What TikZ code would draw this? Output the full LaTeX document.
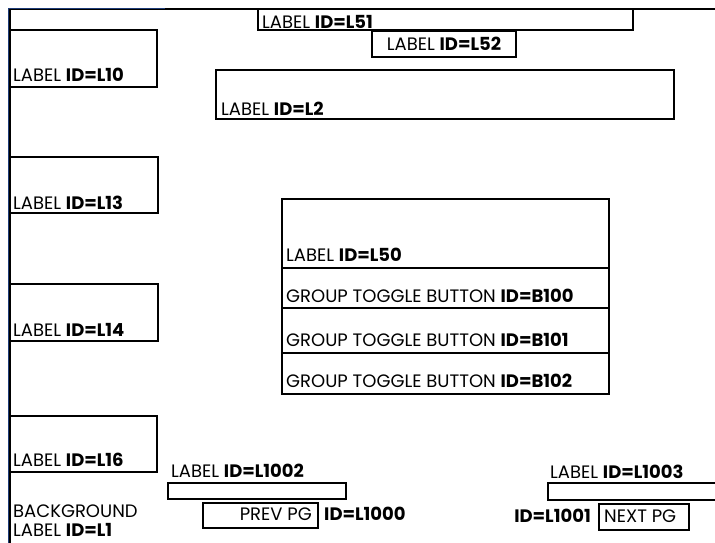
\documentclass[tikz,border=0pt]{standalone}
\usepackage{fontspec}
\setmainfont{Poppins}
\begin{document}
\begin{tikzpicture}[x=1pt,y=-1pt,
  box/.style={draw=black,line width=2.4pt},
  txt/.style={anchor=base west,inner sep=0pt,font=\fontsize{18}{20}\selectfont},
  txtr/.style={anchor=base east,inner sep=0pt,font=\fontsize{18}{20}\selectfont}]
\useasboundingbox (0,0) rectangle (715,542);
% background border
\draw[line width=2pt,black] (9,9) -- (720,9);
\draw[line width=1pt,color={rgb,255:red,30;green,60;blue,120}] (9,8) -- (165,8);
\draw[line width=2pt,black] (10,9) -- (10,550);
\draw[line width=1pt,color={rgb,255:red,30;green,60;blue,120}] (8.5,8) -- (8.5,550);
% top labels
\draw[box] (258,9) rectangle (633,30);
\node[txt] (t51) at (262,28) {LABEL \textbf{ID=L51}};
\draw[box] (372,31) rectangle (516,57);
\node[anchor=base,inner sep=0pt,font=\fontsize{18}{20}\selectfont] (t52) at (444,50) {LABEL \textbf{ID=L52}};
\draw[box] (216,70) rectangle (674,119);
\node[txt] (t2) at (221,115) {LABEL \textbf{ID=L2}};
% left column
\draw[box] (10,30) rectangle (157,87);
\node[txt] (t10) at (13,81) {LABEL \textbf{ID=L10}};
\draw[box] (10,157) rectangle (158,213);
\node[txt] (t13) at (13,209) {LABEL \textbf{ID=L13}};
\draw[box] (10,284) rectangle (158,341);
\node[txt] (t14) at (13,336) {LABEL \textbf{ID=L14}};
\draw[box] (10,416) rectangle (157,472);
\node[txt] (t16) at (13,466) {LABEL \textbf{ID=L16}};
% center group
\draw[box] (282,199) rectangle (609,268);
\node[txt] (t50) at (286,261) {LABEL \textbf{ID=L50}};
\draw[box] (282,268) rectangle (609,308);
\node[txt] (b100) at (286,302) {GROUP TOGGLE BUTTON \textbf{ID=B100}};
\draw[box] (282,308) rectangle (609,353);
\node[txt] (b101) at (286,346) {GROUP TOGGLE BUTTON \textbf{ID=B101}};
\draw[box] (282,353) rectangle (609,394);
\node[txt] (b102) at (286,387) {GROUP TOGGLE BUTTON \textbf{ID=B102}};
% bottom
\node[txt] (t1002) at (171,477) {LABEL \textbf{ID=L1002}};
\draw[box] (168,483) rectangle (346,499);
\draw[box] (203,503) rectangle (318,528);
\node[txtr] (prev) at (312,520) {PREV PG};
\node[txt] (t1000) at (324,520) {\textbf{ID=L1000}};
\node[txt] (t1003) at (550,478) {LABEL \textbf{ID=L1003}};
\draw[box] (548,483) rectangle (720,500);
\draw[box] (599,504) rectangle (689,530);
\node[txt] (next) at (604,522) {NEXT PG};
\node[txtr] (t1001) at (591,522) {\textbf{ID=L1001}};
\node[txt] (bg1) at (13,517) {BACKGROUND};
\node[txt] (bg2) at (13,536) {LABEL \textbf{ID=L1}};
\end{tikzpicture}
\end{document}
